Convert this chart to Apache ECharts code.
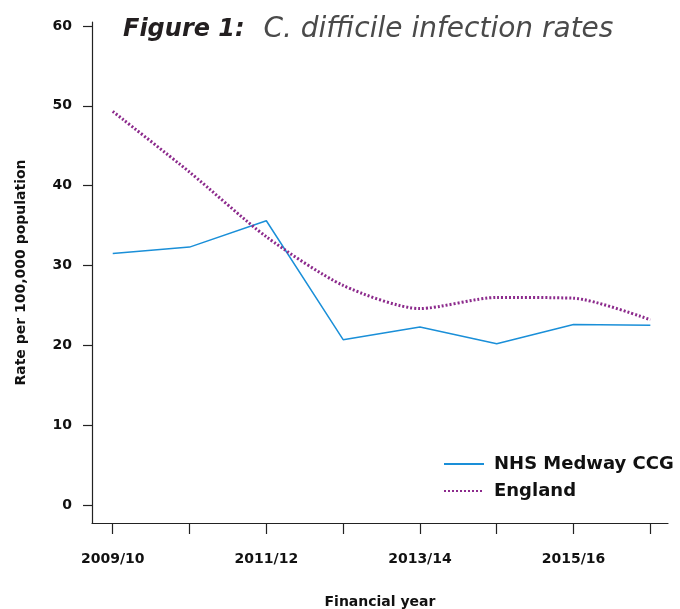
<!DOCTYPE html>
<html>
<head>
<meta charset="utf-8">
<script src="https://cdn.jsdelivr.net/npm/echarts@6/dist/echarts.min.js"></script>
<style>
  html, body { margin: 0; padding: 0; background: #fff; }
  #chart { width: 680px; height: 609px; }
</style>
</head>
<body>
<div id="chart"></div>
<script>
// 财年
var years = ['2009/10', '2010/11', '2011/12', '2012/13', '2013/14', '2014/15', '2015/16', '2016/17']
// 每10万人感染率
var medway = [31.5, 32.3, 35.6, 20.7, 22.3, 20.2, 22.6, 22.5]
var england = [49.3, 41.7, 33.6, 27.5, 24.6, 26.0, 25.9, 23.2]
var yTicks = [0, 10, 20, 30, 40, 50, 60]
var xLabelIdx = [0, 2, 4, 6]

function pairs(arr) {
  return arr.map(function (v, i) { return [i, v] })
}

var font = 'DejaVu Sans'
var chart = echarts.init(document.getElementById('chart'))

chart.setOption({
  animation: false,
  textStyle: { fontFamily: font },
  title: {
    left: 118,
    top: 11,
    text: '{a|Figure 1:}   {b|C. difficile infection rates}',
    textStyle: {
      rich: {
        a: { fontFamily: font, fontStyle: 'italic', fontWeight: 'bold', fontSize: 24, color: '#231f20' },
        b: { fontFamily: font, fontStyle: 'italic', fontWeight: 'normal', fontSize: 28, color: '#4a4a4a' }
      }
    }
  },
  legend: {
    orient: 'vertical',
    left: 438,
    top: 450,
    itemWidth: 40,
    itemHeight: 12,
    itemGap: 9,
    itemStyle: { opacity: 0 },
    textStyle: { fontFamily: font, fontWeight: 'bold', fontSize: 18, color: '#111', padding: [0, 0, 0, 5] },
    data: ['NHS Medway CCG', 'England']
  },
  grid: { left: 92, right: 12, top: 22, bottom: 86, outerBoundsMode: 'none' },
  xAxis: {
    type: 'value',
    min: -0.27,
    max: 7.23,
    name: 'Financial year',
    nameLocation: 'middle',
    nameGap: 72,
    nameTextStyle: { fontWeight: 'bold', fontSize: 14, color: '#111' },
    splitLine: { show: false },
    axisLine: { show: true, onZero: false, lineStyle: { color: '#222', width: 1.2 } },
    axisTick: { show: true, customValues: [0, 1, 2, 3, 4, 5, 6, 7], length: 11, lineStyle: { color: '#222', width: 1.2 } },
    axisLabel: {
      customValues: xLabelIdx,
      margin: 29,
      fontWeight: 'bold',
      fontSize: 14,
      color: '#111',
      formatter: function (v) { return years[Math.round(v)] }
    }
  },
  yAxis: {
    type: 'value',
    min: -2.26,
    max: 60.5,
    name: 'Rate per 100,000 population',
    nameLocation: 'middle',
    nameGap: 64,
    nameTextStyle: { fontWeight: 'bold', fontSize: 14, color: '#111' },
    splitLine: { show: false },
    axisLine: { show: true, onZero: false, lineStyle: { color: '#222', width: 1.2 } },
    axisTick: { show: true, customValues: yTicks, length: 9, lineStyle: { color: '#222', width: 1.2 } },
    axisLabel: {
      customValues: yTicks,
      margin: 20,
      fontWeight: 'bold',
      fontSize: 14,
      color: '#111'
    }
  },
  series: [
    {
      name: 'NHS Medway CCG',
      type: 'line',
      symbol: 'none',
      lineStyle: { color: '#1a8fd8', width: 1.5 },
      itemStyle: { color: '#1a8fd8' },
      data: pairs(medway)
    },
    {
      name: 'England',
      type: 'line',
      symbol: 'none',
      smooth: 0.25,
      lineStyle: { color: '#8c2a8c', width: 3, type: [2, 2] },
      itemStyle: { color: '#8c2a8c' },
      data: pairs(england)
    }
  ]
})
</script>
</body>
</html>
